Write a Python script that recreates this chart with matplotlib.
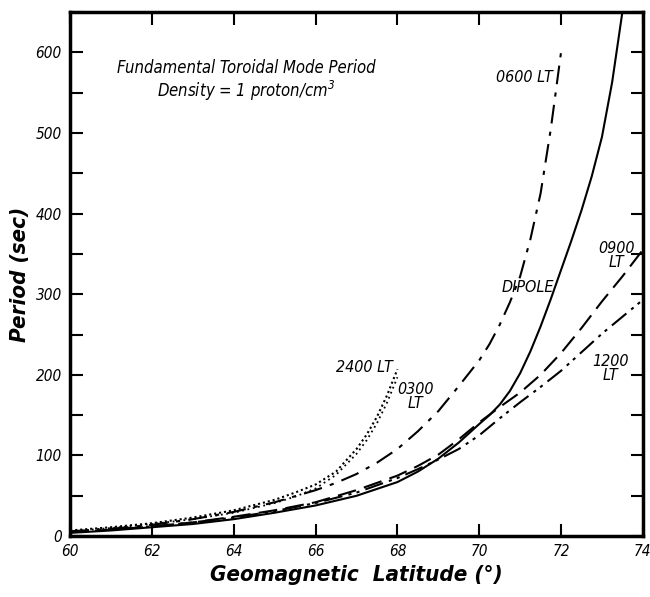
import matplotlib
matplotlib.use("Agg")
import matplotlib.pyplot as plt
import numpy as np

plt.rcParams['font.family'] = ['DejaVu Sans']
plt.rcParams['font.style'] = 'italic'
plt.rcParams['font.stretch'] = 'condensed'
plt.rcParams['mathtext.default'] = 'it'

# latitude (deg) and period (sec)
dipole_lat = [60, 61, 62, 63, 64, 65, 66, 67, 68, 68.5, 69, 69.5, 70, 70.25, 70.5, 70.75, 71, 71.25,
              71.5, 71.75, 72, 72.25, 72.5, 72.75, 73, 73.25, 73.5]
dipole_per = [4, 7, 11, 15, 21, 29, 38, 50, 67, 80, 96, 116, 139, 150, 163, 180, 202, 229,
              260, 294, 330, 366, 404, 446, 495, 563, 650]

lt0600_lat = [60, 61, 62, 63, 64, 65, 66, 66.5, 67, 67.5, 68, 68.5, 69, 69.5, 70, 70.25, 70.5, 70.75,
              71, 71.25, 71.5, 71.75, 72]
lt0600_per = [6, 9, 14, 21, 30, 42, 57, 66, 77, 91, 108, 130, 155, 186, 218, 238, 262, 290,
              322, 368, 425, 505, 600]

lt0900_lat = [60, 61, 62, 63, 64, 65, 66, 67, 68, 68.5, 69, 69.5, 70, 70.5, 71, 71.5, 72, 72.5, 73,
              73.5, 74]
lt0900_per = [5, 8, 12, 17, 24, 32, 42, 57, 75, 87, 101, 120, 141, 160, 178, 200, 227, 258, 291,
              322, 355]

lt1200_lat = [60, 61, 62, 63, 64, 65, 66, 67, 68, 68.5, 69, 69.5, 70, 70.5, 71, 71.5, 72, 72.5, 73,
              73.5, 74]
lt1200_per = [5, 8, 12, 17, 23, 31, 41, 54, 72, 83, 95, 108, 125, 146, 166, 185, 205, 228, 251,
              272, 293]

lt2400_lat = [60, 61, 62, 63, 64, 65, 65.5, 66, 66.5, 67, 67.25, 67.5, 67.75, 68]
lt2400_per = [7, 11, 16, 23, 32, 45, 54, 64, 80, 108, 126, 148, 175, 207]

lt0300_lat = [60, 61, 62, 63, 64, 65, 65.5, 66, 66.5, 67, 67.25, 67.5, 67.75, 68]
lt0300_per = [6, 10, 15, 21, 29, 41, 49, 59, 76, 102, 119, 140, 166, 197]

fig = plt.figure(figsize=(6.5, 5.97), dpi=100)
ax = fig.add_axes([0.108, 0.102, 0.881, 0.878])

ax.plot(dipole_lat, dipole_per, color="black", lw=1.5, ls="-")
ax.plot(lt0600_lat, lt0600_per, color="black", lw=1.5, ls=(0, (9, 4, 2, 4)))
ax.plot(lt0900_lat, lt0900_per, color="black", lw=1.5, ls=(0, (9, 4)))
ax.plot(lt1200_lat, lt1200_per, color="black", lw=1.5, ls=(0, (9, 3, 1.5, 2.5, 1.5, 3)))
ax.plot(lt2400_lat, lt2400_per, color="black", lw=1.5, ls=(0, (1, 1.4)))
ax.plot(lt0300_lat, lt0300_per, color="black", lw=1.3, ls=(0, (1, 2)))

ax.set_xlim(60, 74)
ax.set_ylim(0, 650)
ax.set_xticks(np.arange(60, 75, 2))
ax.set_yticks(np.arange(0, 601, 100))
ax.set_yticks(np.arange(50, 651, 100), minor=True)
ax.tick_params(direction="in", top=True, right=True, width=1.5, length=9, labelsize=11, pad=6)
ax.tick_params(which="minor", direction="in", right=True, width=1.5, length=9)
for s in ax.spines.values():
    s.set_linewidth(2.5)

ax.set_xlabel("Geomagnetic  Latitude (°)", fontsize=16, fontweight="bold", labelpad=4)
ax.set_ylabel("Period (sec)", fontsize=16, fontweight="bold", labelpad=4)

ax.text(64.3, 581, "Fundamental Toroidal Mode Period", ha="center", va="center", fontsize=12)
ax.text(64.3, 552, "Density = 1 proton/cm$^3$", ha="center", va="center", fontsize=12)

ax.text(71.8, 569, "0600 LT", ha="right", va="center", fontsize=11.5)
ax.text(71.2, 308, "DIPOLE", ha="center", va="center", fontsize=11.5)
ax.text(73.35, 348, "0900\nLT", ha="center", va="center", fontsize=11.5, linespacing=0.9)
ax.text(73.2, 208, "1200\nLT", ha="center", va="center", fontsize=11.5, linespacing=0.9)
ax.text(67.2, 209, "2400 LT", ha="center", va="center", fontsize=11.5)
ax.text(68.45, 173, "0300\nLT", ha="center", va="center", fontsize=11.5, linespacing=0.9)

fig.savefig("out.png", dpi=100)
